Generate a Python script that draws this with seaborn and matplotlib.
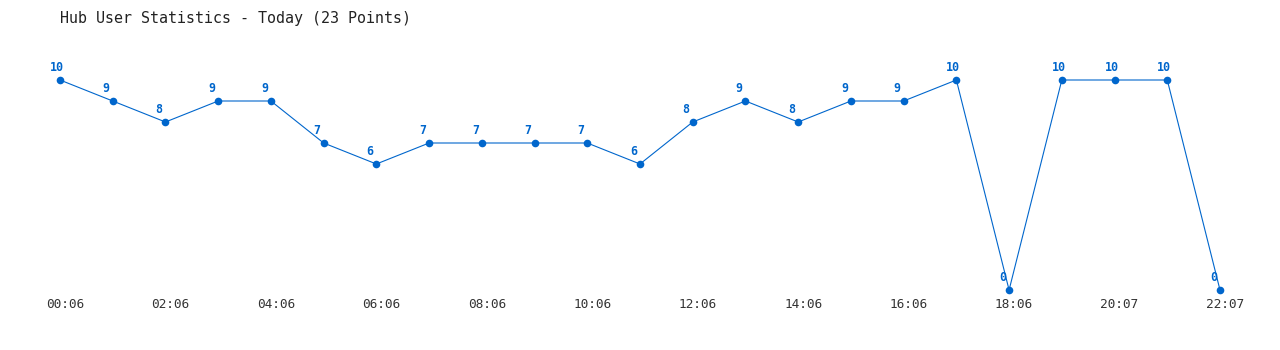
import matplotlib
matplotlib.use("Agg")
import matplotlib.pyplot as plt
import matplotlib.transforms as mtransforms
import seaborn as sns
import pandas as pd

title = "Hub User Statistics - Today (23 Points)"
point_index = list(range(23))
users = [10, 9, 8, 9, 9, 7, 6, 7, 7, 7, 7, 6, 8, 9, 8, 9, 9, 10, 0, 10, 10, 10, 0]
tick_positions = [0, 2, 4, 6, 8, 10, 12, 14, 16, 18, 20, 22]
tick_labels = ["00:06", "02:06", "04:06", "06:06", "08:06", "10:06",
               "12:06", "14:06", "16:06", "18:06", "20:07", "22:07"]

sns.set_theme(style="white")
plt.rcParams["font.family"] = ["DejaVu Sans Mono", "DejaVu Sans"]

DPI = 100
W, H = 1280, 350
fig = plt.figure(figsize=(W / DPI, H / DPI), dpi=DPI)
x0, x1 = 60, 1220
y_top, y_bot = 80, 290
ax = fig.add_axes([x0 / W, (H - y_bot) / H, (x1 - x0) / W, (y_bot - y_top) / H])

df = pd.DataFrame({"idx": point_index, "users": users})
blue = "#0066cc"
sns.lineplot(data=df, x="idx", y="users", ax=ax, color=blue, linewidth=0.8,
             marker="o", markersize=5.5, markeredgewidth=0, clip_on=False)

ax.set_xlim(0, 22)
ax.set_ylim(0, 10)
for s in ax.spines.values():
    s.set_visible(False)
ax.set_yticks([])
ax.set_xlabel("")
ax.set_ylabel("")
ax.set_xticks(tick_positions)
ax.set_xticklabels(tick_labels, fontsize=9.2, color="#333333")
ax.tick_params(axis="x", length=0, pad=6)
offset = mtransforms.ScaledTranslation(5 / DPI, 0, fig.dpi_scale_trans)
for lbl in ax.get_xticklabels():
    lbl.set_transform(lbl.get_transform() + offset)

px = 72 / DPI
for xi, yi in zip(point_index, users):
    ax.annotate(str(yi), (xi, yi), xytext=(-10 * px, 9 * px),
                textcoords="offset points", ha="left", va="baseline",
                fontsize=8.4, fontweight="bold", color=blue,
                annotation_clip=False)

fig.text(60 / W, 1 - 18 / H, title, ha="left", va="center",
         fontsize=10.8, color="#222222")

fig.savefig("out.png", dpi=DPI, facecolor="white")
